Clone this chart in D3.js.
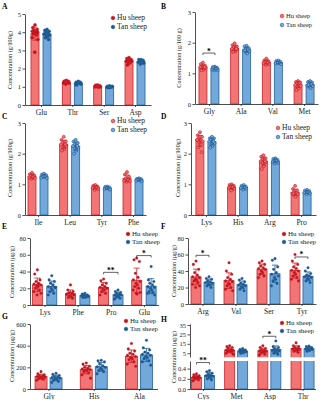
<!DOCTYPE html>
<html>
<head>
<meta charset="utf-8">
<script src="https://cdn.jsdelivr.net/npm/d3@7"></script>
<style>
  body { margin: 0; background: #fff; }
  text { font-family: "Liberation Serif", "DejaVu Serif", serif; }
</style>
</head>
<body>
<svg id="chart" width="320" height="400"></svg>
<script>
// ---- data ----
const catsA = ['Glu', 'Thr', 'Ser', 'Asp'];
const huA = [
  [4.4, 4.25, 4.15, 4.1, 4.05, 4.05, 4.0, 4.0, 3.95, 3.9, 3.85, 3.7, 3.6, 2.9],
  [1.35, 1.3, 1.3, 1.25, 1.25, 1.2, 1.2, 1.15, 1.25, 1.3],
  [1.1, 1.08, 1.05, 1.05, 1.02, 1.0, 1.0, 1.07, 0.98],
  [2.6, 2.55, 2.5, 2.5, 2.45, 2.4, 2.4, 2.35, 2.3, 2.2, 2.45]
];
const tanA = [
  [4.15, 4.1, 4.05, 4.0, 3.95, 3.9, 3.85, 3.8, 3.75, 3.7, 3.6, 3.9],
  [1.3, 1.25, 1.25, 1.2, 1.2, 1.15, 1.15, 1.2, 1.25, 1.1],
  [1.05, 1.03, 1.0, 1.0, 0.98, 0.97, 1.02, 0.95],
  [2.5, 2.5, 2.45, 2.4, 2.4, 2.35, 2.3, 2.25, 2.4]
];
const ticksA = [0, 1, 2, 3, 4, 5];

const catsB = ['Gly', 'Ala', 'Val', 'Met'];
const huB = [
  [1.35, 1.3, 1.25, 1.22, 1.2, 1.2, 1.18, 1.15, 1.12, 1.1, 1.2],
  [1.98, 1.92, 1.88, 1.85, 1.82, 1.8, 1.78, 1.75, 1.72, 1.7, 1.8],
  [1.48, 1.42, 1.4, 1.38, 1.35, 1.33, 1.3, 1.28, 1.35],
  [0.75, 0.72, 0.7, 0.68, 0.65, 0.62, 0.6, 0.55, 0.5, 0.45, 0.7]
];
const tanB = [
  [1.22, 1.2, 1.18, 1.15, 1.15, 1.12, 1.1, 1.1, 1.15, 1.2],
  [1.9, 1.88, 1.82, 1.8, 1.78, 1.75, 1.72, 1.68, 1.65, 1.75],
  [1.42, 1.4, 1.38, 1.35, 1.33, 1.32, 1.3, 1.35],
  [0.75, 0.72, 0.7, 0.68, 0.65, 0.6, 0.58, 0.55, 0.52, 0.62]
];
const ticksB = [0, 1, 2, 3];
const sigB = [{ cat: 'Gly', at: 1.66, label: '*' }];

const catsC = ['Ile', 'Leu', 'Tyr', 'Phe'];
const huC = [
  [1.38, 1.33, 1.3, 1.28, 1.25, 1.22, 1.2, 1.18, 1.25],
  [2.55, 2.45, 2.4, 2.35, 2.3, 2.3, 2.25, 2.2, 2.15, 2.1, 2.3],
  [0.98, 0.95, 0.93, 0.9, 0.9, 0.88, 0.85, 0.82, 0.9],
  [1.4, 1.32, 1.25, 1.2, 1.15, 1.12, 1.1, 1.08, 1.15]
];
const tanC = [
  [1.35, 1.32, 1.3, 1.27, 1.25, 1.22, 1.2, 1.25],
  [2.45, 2.4, 2.35, 2.3, 2.25, 2.25, 2.2, 2.15, 2.1, 2.0, 2.25],
  [0.93, 0.92, 0.9, 0.88, 0.86, 0.85, 0.83, 0.88],
  [1.2, 1.18, 1.17, 1.15, 1.13, 1.12, 1.1, 1.15]
];
const ticksC = [0, 1, 2, 3];

const catsD = ['Lys', 'His', 'Arg', 'Pro'];
const huD = [
  [2.7, 2.6, 2.55, 2.5, 2.45, 2.45, 2.4, 2.35, 2.3, 2.2, 2.05, 2.45],
  [1.0, 0.98, 0.95, 0.93, 0.9, 0.88, 0.85, 0.8, 0.92],
  [1.95, 1.9, 1.85, 1.8, 1.78, 1.75, 1.72, 1.7, 1.6, 1.5, 1.75],
  [0.95, 0.85, 0.8, 0.75, 0.72, 0.7, 0.68, 0.65, 0.6, 0.7]
];
const tanD = [
  [2.55, 2.5, 2.5, 2.45, 2.4, 2.4, 2.35, 2.3, 2.25, 2.2, 2.4],
  [0.98, 0.95, 0.93, 0.9, 0.9, 0.88, 0.85, 0.83],
  [1.85, 1.83, 1.8, 1.78, 1.75, 1.72, 1.7, 1.68, 1.78],
  [0.82, 0.8, 0.78, 0.75, 0.73, 0.72, 0.7, 0.68, 0.75]
];
const ticksD = [0, 1, 2, 3];

const catsE = ['Lys', 'Phe', 'Pro', 'Glu'];
const huE = [
  [42, 37, 30, 28, 26, 25, 24, 23, 22, 20, 18, 16, 14, 12, 24],
  [24, 18, 16, 15, 14, 13, 12, 11, 10, 9, 8, 13],
  [31, 29, 26, 24, 22, 21, 20, 19, 18, 16, 14, 12],
  [56, 54, 52, 38, 33, 30, 28, 26, 24, 22, 20, 18, 15, 14, 13]
];
const tanE = [
  [35, 30, 28, 26, 24, 22, 21, 20, 18, 16, 14, 12, 21],
  [14, 13, 12, 12, 11, 11, 10, 10, 9, 9, 11],
  [18, 16, 15, 14, 13, 12, 12, 11, 10, 9, 8, 7],
  [46, 30, 28, 26, 24, 22, 21, 20, 18, 16, 15, 14, 12]
];
const ticksE = [0, 20, 40, 60, 80];
const sigE = [{ cat: 'Pro', at: 39, label: '**' }, { cat: 'Glu', at: 59, label: '*' }];

const catsF = ['Arg', 'Val', 'Ser', 'Tyr'];
const huF = [
  [52, 48, 42, 38, 35, 33, 32, 30, 29, 28, 26, 24, 22, 20],
  [50, 40, 36, 32, 30, 28, 27, 25, 24, 22, 20, 18, 16],
  [52, 50, 48, 46, 44, 43, 42, 40, 38, 36, 34, 32],
  [60, 52, 48, 45, 43, 41, 40, 38, 36, 34, 32, 30, 28]
];
const tanF = [
  [33, 31, 30, 28, 27, 26, 25, 24, 23, 22, 20],
  [31, 29, 27, 25, 24, 23, 22, 21, 20, 18, 16],
  [55, 53, 45, 42, 38, 36, 34, 32, 30, 28, 25, 22],
  [44, 40, 37, 35, 34, 33, 32, 31, 30, 28, 26]
];
const ticksF = [0, 20, 40, 60, 80];
const sigF = [{ cat: 'Arg', at: 59, label: '*' }, { cat: 'Tyr', at: 57, label: '*' }];

const catsG = ['Gly', 'His', 'Ala'];
const huG = [
  [160, 140, 130, 125, 120, 115, 110, 105, 100, 95, 90, 80],
  [240, 230, 210, 200, 190, 185, 180, 175, 170, 160, 150, 130, 100],
  [420, 370, 350, 330, 320, 310, 300, 290, 280, 270, 250, 230, 210]
];
const tanG = [
  [145, 135, 125, 115, 110, 105, 100, 95, 90, 80, 70, 60],
  [265, 260, 250, 230, 215, 205, 200, 190, 180, 170, 160, 140],
  [450, 380, 360, 340, 330, 320, 310, 300, 290, 280, 260, 250, 220]
];
const ticksG = [0, 200, 400, 600];

const catsH = ['Cys', 'Met', 'Asp', 'Thr'];
const huH = [
  [0.3, 0.28, 0.26, 0.25, 0.24, 0.23, 0.22, 0.21, 0.2, 0.19, 0.18, 0.16],
  [13, 12, 11, 10, 9, 8.5, 8, 7.5, 7, 6.5, 6, 5, 4],
  [13, 11, 10, 9, 8, 7.5, 7, 6.5, 6, 5, 4, 3],
  [16, 13, 12, 11, 10, 9.5, 9, 8.5, 8, 7, 6]
];
const tanH = [
  [0.36, 0.34, 0.31, 0.29, 0.27, 0.26, 0.25, 0.24, 0.22, 0.2, 0.18],
  [10, 9, 8.5, 8, 7.5, 7, 6.5, 6, 5.5, 5],
  [18, 12, 11, 10, 9, 8, 7.5, 7, 6, 5, 4],
  [12.5, 12, 11, 10.5, 10, 9.5, 9, 8.5, 8, 7]
];
const ticksHlow = [0, 0.2, 0.4];
const ticksHup = [5, 15, 25, 35];
const sigH = [{ cat: 'Cys', at: 0.52, label: '**' }, { cat: 'Asp', at: 23, label: '*' }];

const groups = ['Hu sheep', 'Tan sheep'];

// ---- drawing ----
const svg = d3.select('#chart');
const col = {
  'Hu sheep': { fill: '#f37474', stroke: '#c8262c', dot: '#c3141d' },
  'Tan sheep': { fill: '#72a8da', stroke: '#23619c', dot: '#1d5890' }
};
const jit = [0, -2.4, 2.4, -1.2, 1.2, -3, 3, -0.6, 0.6, -1.8, 1.8, -3.2, 3.2, -0.3, 0.3];

function styleAxis(sel, size) {
  sel.selectAll('path, line').attr('stroke', '#222').attr('stroke-width', 0.8);
  sel.selectAll('text').attr('font-size', size).attr('fill', '#222')
    .attr('font-family', '"Liberation Serif", serif');
}

function panel(o) {
  const g = svg.append('g');
  const x = d3.scalePoint().domain(o.cats).range(o.xr).padding(o.pad);
  const sub = d3.scalePoint().domain(groups).range([-o.off, o.off]);
  const y = o.y;
  const base = y(0);

  // one row per bar, mean and SD from the points
  const rows = [];
  o.cats.forEach((c, i) => {
    [[groups[0], o.hu[i]], [groups[1], o.tan[i]]].forEach(([grp, vals]) => {
      rows.push({ c, grp, vals, m: d3.mean(vals), sd: d3.deviation(vals) });
    });
  });

  g.selectAll('rect.bar').data(rows).join('rect')
    .attr('x', d => x(d.c) + sub(d.grp) - o.bw / 2)
    .attr('width', o.bw)
    .attr('y', d => y(d.m))
    .attr('height', d => base - y(d.m))
    .attr('fill', d => col[d.grp].fill)
    .attr('stroke', d => col[d.grp].stroke)
    .attr('stroke-width', 0.8);

  // dots
  rows.forEach(d => {
    g.selectAll(null).data(d.vals).join('circle')
      .attr('cx', (v, j) => x(d.c) + sub(d.grp) + jit[j % jit.length] * o.bw / 9)
      .attr('cy', v => y(v))
      .attr('r', o.r)
      .attr('fill', o.hollow ? col[d.grp].fill : col[d.grp].dot)
      .attr('stroke', col[d.grp].dot)
      .attr('stroke-width', o.hollow ? 0.6 : 0.3);
  });

  // error bars (mean +/- SD)
  rows.forEach(d => {
    const cx = x(d.c) + sub(d.grp);
    const lo = y(d.m - d.sd), hi = y(d.m + d.sd);
    g.append('line').attr('x1', cx).attr('x2', cx).attr('y1', lo).attr('y2', hi)
      .attr('stroke', col[d.grp].stroke).attr('stroke-width', 0.8);
    [lo, hi].forEach(yy => g.append('line')
      .attr('x1', cx - o.bw * 0.3).attr('x2', cx + o.bw * 0.3)
      .attr('y1', yy).attr('y2', yy)
      .attr('stroke', col[d.grp].stroke).attr('stroke-width', 0.8));
  });

  if (o.gap) {
    g.append('rect').attr('x', o.xr[0] - 6).attr('width', o.xr[1] - o.xr[0] + 8)
      .attr('y', o.gap[0]).attr('height', o.gap[1] - o.gap[0]).attr('fill', '#fff');
  }

  // axes
  const xa = g.append('g').attr('transform', `translate(0,${base})`)
    .call(d3.axisBottom(x).tickSize(2).tickSizeOuter(0).tickPadding(2.5));
  styleAxis(xa, 7.5);

  o.yAxes.forEach(([sc, tv, fmt]) => {
    const ya = g.append('g').attr('transform', `translate(${o.xr[0]},0)`)
      .call(d3.axisLeft(sc).tickValues(tv).tickFormat(fmt || d3.format('d'))
        .tickSize(2.5).tickSizeOuter(0).tickPadding(1.5));
    styleAxis(ya, 6.5);
  });

  // y label
  g.append('text')
    .attr('transform', `translate(${o.lx},${o.ly}) rotate(-90)`)
    .attr('text-anchor', 'middle').attr('font-size', 6.2).attr('fill', '#222')
    .text(o.ylabel);

  // panel letter
  g.append('text').attr('x', o.letter[0]).attr('y', o.letter[1])
    .attr('font-family', '"Liberation Sans", Arial, sans-serif')
    .attr('font-weight', 'bold').attr('font-size', 7.5).text(o.name);

  // legend
  groups.forEach((grp, k) => {
    const ly = o.leg[1] + k * o.legStep;
    g.append('circle').attr('cx', o.leg[0]).attr('cy', ly).attr('r', 1.8)
      .attr('fill', o.hollow ? col[grp].fill : col[grp].dot)
      .attr('stroke', col[grp].dot).attr('stroke-width', 0.6);
    g.append('text').attr('x', o.leg[0] + 4).attr('y', ly + 2.3)
      .attr('font-size', o.legSize).attr('fill', '#222')
      .attr('font-family', o.legSans ? '"Liberation Sans", Arial, sans-serif' : '"Liberation Serif", serif')
      .text(grp);
  });

  // significance
  (o.sig || []).forEach(s => {
    const x1 = x(s.cat) + sub(groups[0]), x2 = x(s.cat) + sub(groups[1]);
    const yy = y(s.at);
    g.append('path').attr('d', `M${x1},${yy + 2}V${yy}H${x2}V${yy + 2}`)
      .attr('fill', 'none').attr('stroke', '#222').attr('stroke-width', 0.7);
    g.append('text').attr('x', (x1 + x2) / 2).attr('y', yy + 0.5)
      .attr('text-anchor', 'middle').attr('font-size', 7.5).attr('font-weight', 'bold')
      .attr('font-family', '"Liberation Sans", Arial, sans-serif')
      .text(s.label);
  });
}

const lin = (dom, rng) => d3.scaleLinear().domain(dom).range(rng);

const yA = lin([0, 5], [105, 14]);
panel({ name: 'A', cats: catsA, hu: huA, tan: tanA, xr: [25, 151], pad: 0.51, off: 6, bw: 8, r: 1.6,
  y: yA, yAxes: [[yA, ticksA]], lx: 12, ly: 60, ylabel: 'Concentration (g/100g)',
  letter: [2, 9], leg: [113, 18], legStep: 9, legSize: 7.5, legSans: true });

const yB = lin([0, 3], [104, 12]);
panel({ name: 'B', cats: catsB, hu: huB, tan: tanB, xr: [195, 318], pad: 0.44, off: 6, bw: 8, r: 1.5,
  y: yB, yAxes: [[yB, ticksB]], lx: 181, ly: 58, ylabel: 'Concentration (g/100 g)', hollow: true,
  letter: [161, 9], leg: [282, 16], legStep: 9, legSize: 6.5, legSans: true, sig: sigB });

const yC = lin([0, 3], [215, 123]);
panel({ name: 'C', cats: catsC, hu: huC, tan: tanC, xr: [25, 146], pad: 0.41, off: 6, bw: 8, r: 1.5,
  y: yC, yAxes: [[yC, ticksC]], lx: 12, ly: 168, ylabel: 'Concentration (g/100g)', hollow: true,
  letter: [2, 119], leg: [113, 121], legStep: 9, legSize: 7.5, legSans: true });

const yD = lin([0, 3], [215, 123]);
panel({ name: 'D', cats: catsD, hu: huD, tan: tanD, xr: [191, 316], pad: 0.47, off: 6, bw: 8, r: 1.5,
  y: yD, yAxes: [[yD, ticksD]], lx: 180, ly: 168, ylabel: 'Concentration (g/100g)', hollow: true,
  letter: [161, 119], leg: [278, 128], legStep: 9, legSize: 7.5, legSans: true });

const yE = lin([0, 80], [305, 238]);
panel({ name: 'E', cats: catsE, hu: huE, tan: tanE, xr: [30, 158.5], pad: 0.44, off: 7.2, bw: 10, r: 1.3,
  y: yE, yAxes: [[yE, ticksE]], lx: 14, ly: 272, ylabel: 'Concentration (μg/g)',
  letter: [2, 229], leg: [128, 234], legStep: 8, legSize: 7, sig: sigE });

const yF = lin([0, 80], [304, 238]);
panel({ name: 'F', cats: catsF, hu: huF, tan: tanF, xr: [188, 316], pad: 0.44, off: 6.5, bw: 10, r: 1.3,
  y: yF, yAxes: [[yF, ticksF]], lx: 176, ly: 271, ylabel: 'Concentration (μg/g)',
  letter: [161, 229], leg: [284, 234], legStep: 8, legSize: 7, sig: sigF });

const yG = lin([0, 600], [389, 324]);
panel({ name: 'G', cats: catsG, hu: huG, tan: tanG, xr: [30, 157.5], pad: 0.41, off: 7.5, bw: 12, r: 1.3,
  y: yG, yAxes: [[yG, ticksG]], lx: 14, ly: 356, ylabel: 'Concentration (μg/g)',
  letter: [2, 319], leg: [126, 321], legStep: 8, legSize: 7 });

// H uses a broken y axis: a low segment for Cys and a high one for the rest
const yHlow = lin([0, 0.55], [389, 361]);
const yHup = lin([1, 36], [357, 324]);
const yH = v => (v <= 0.55 ? yHlow(v) : yHup(v));
panel({ name: 'H', cats: catsH, hu: huH, tan: tanH, xr: [190, 315.5], pad: 0.39, off: 6.5, bw: 10, r: 1.3,
  y: yH, yAxes: [[yHlow, ticksHlow, d3.format('.1f')], [yHup, ticksHup]], gap: [357.3, 361],
  lx: 176, ly: 357, ylabel: 'Concentration (μg/g)',
  letter: [161, 322], leg: [282, 323], legStep: 8, legSize: 7, sig: sigH });
</script>
</body>
</html>
